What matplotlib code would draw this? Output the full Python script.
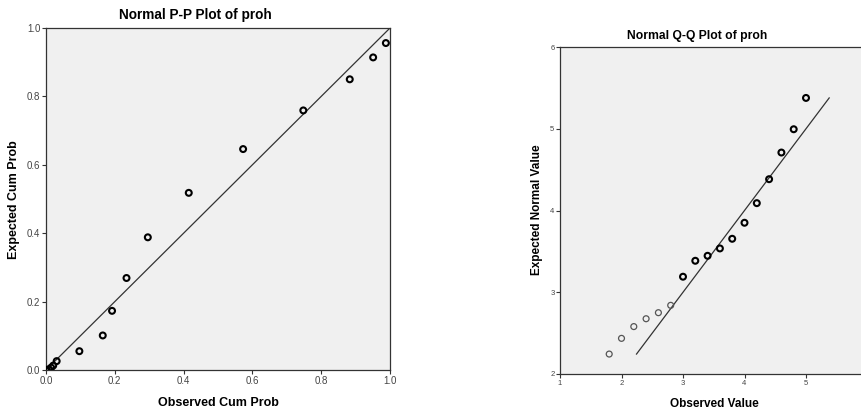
import matplotlib.pyplot as plt

plt.rcParams['font.family'] = ['Liberation Sans', 'DejaVu Sans']

# P-P plot data
pp_obs = [0.002, 0.008, 0.015, 0.021, 0.031, 0.097, 0.165, 0.192, 0.234, 0.296,
          0.415, 0.573, 0.748, 0.883, 0.951, 0.988]
pp_exp = [0.000, 0.002, 0.007, 0.013, 0.026, 0.055, 0.101, 0.173, 0.269, 0.388,
          0.518, 0.646, 0.759, 0.850, 0.914, 0.956]

# Q-Q plot data
qq_obs = [1.8, 2.0, 2.2, 2.4, 2.6, 2.8, 3.0, 3.2, 3.4, 3.6, 3.8, 4.0, 4.2, 4.4,
          4.6, 4.8, 5.0]
qq_exp = [2.244, 2.436, 2.58, 2.676, 2.75, 2.84, 3.19, 3.385, 3.446, 3.536,
          3.654, 3.85, 4.09, 4.383, 4.709, 4.994, 5.377]
qq_line = [2.244, 5.377]

bg = '#f0f0f0'
fig = plt.figure(figsize=(8.61, 4.12), dpi=100)

def style(ax):
    ax.set_facecolor(bg)
    for s in ax.spines.values():
        s.set_color('#333333')
        s.set_linewidth(0.9)
    ax.tick_params(direction='out', length=3, width=0.8, color='#333333',
                   labelsize=7, labelcolor='#444444', pad=1)

# left: P-P
ax1 = fig.add_axes([46/861, 1-370/412, 344/861, 342/412])
style(ax1)
ax1.plot([0, 1], [0, 1], color='#333333', lw=0.9)
ax1.scatter(pp_obs, pp_exp, s=18, facecolors='none', edgecolors='black',
            linewidths=1.5, zorder=3)
ax1.set_xlim(0, 1)
ax1.set_ylim(0, 1)
ax1.set_xticks([0, 0.2, 0.4, 0.6, 0.8, 1.0])
ax1.set_yticks([0, 0.2, 0.4, 0.6, 0.8, 1.0])
ax1.set_xticklabels(['0.0', '0.2', '0.4', '0.6', '0.8', '1.0'])
ax1.set_yticklabels(['0.0', '0.2', '0.4', '0.6', '0.8', '1.0'])
fig.text(195/861, 1-15/412, 'Normal P-P Plot of proh', ha='center', va='center',
         fontsize=9.8, fontweight='bold')
fig.text(218/861, 1-403/412, 'Observed Cum Prob', ha='center', va='center',
         fontsize=9, fontweight='bold')
fig.text(14/861, 1-200/412, 'Expected Cum Prob', ha='center', va='center',
         rotation=90, fontsize=9, fontweight='bold')

# right: Q-Q
ax2 = fig.add_axes([560/861, 1-374/412, 307.5/861, 327/412])
style(ax2)
ax2.tick_params(labelsize=5.5)
ax2.plot(qq_line, qq_line, color='#333333', lw=0.9)
ax2.scatter(qq_obs[:6], qq_exp[:6], s=18, facecolors='none', edgecolors='#555555',
            linewidths=0.9, zorder=3)
ax2.scatter(qq_obs[6:], qq_exp[6:], s=18, facecolors='none', edgecolors='black',
            linewidths=1.5, zorder=3)
ax2.set_xlim(1, 6)
ax2.set_ylim(2, 6)
ax2.set_xticks([1, 2, 3, 4, 5])
ax2.set_yticks([2, 3, 4, 5, 6])
fig.text(697/861, 1-36/412, 'Normal Q-Q Plot of proh', ha='center', va='center',
         fontsize=8.7, fontweight='bold')
fig.text(714/861, 1-404/412, 'Observed Value', ha='center', va='center',
         fontsize=8.5, fontweight='bold')
fig.text(537/861, 1-210/412, 'Expected Normal Value', ha='center', va='center',
         rotation=90, fontsize=8.5, fontweight='bold')

fig.savefig('out.png', dpi=100)
